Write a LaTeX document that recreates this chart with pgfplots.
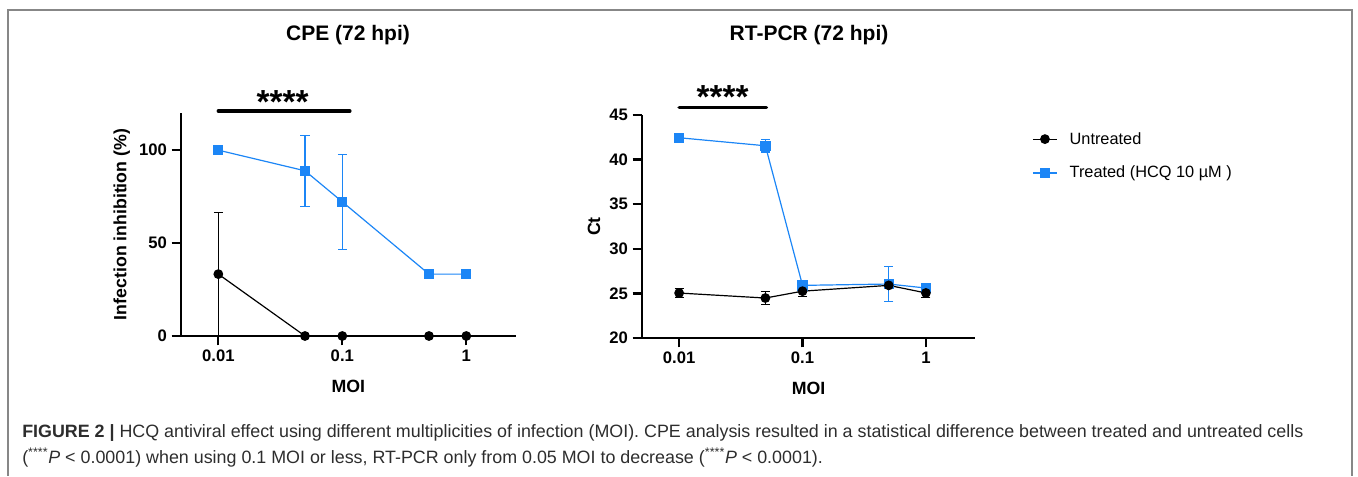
\documentclass[border=0pt]{standalone}
\usepackage{fontspec}
\setmainfont{Liberation Sans}
\usepackage{pgfplots}
\usepackage{pgfplotstable}
\pgfplotsset{compat=1.18}

\definecolor{hcqblue}{RGB}{28,134,246}
\definecolor{capgray}{RGB}{45,45,45}
\definecolor{framegray}{RGB}{135,135,135}

% CPE: infection inhibition (%), mean and error
\pgfplotstableread{
x    y     e
0.01 100   0
0.05 88.9  19.2
0.1  72.2  25.5
0.5  33.3  0
1    33.3  0
}\cpetreated
\pgfplotstableread{
x    y     e
0.01 33.3  33.4
0.05 0     0
0.1  0     0
0.5  0     0
1    0     0
}\cpeuntreated
% RT-PCR: Ct values
\pgfplotstableread{
x    y     e
0.01 42.45 0.3
0.05 41.55 0.7
0.1  25.9  0.3
0.5  26.05 1.95
1    25.6  0.25
}\pcrtreated
\pgfplotstableread{
x    y     e
0.01 25.04 0.55
0.05 24.48 0.72
0.1  25.25 0.65
0.5  25.9  0.25
1    25.05 0.55
}\pcruntreated

\begin{document}
\begin{tikzpicture}
\path (0,0) rectangle (1018.5pt,357pt);
\draw[framegray, line width=1.5pt] (6pt,0) -- (6pt,349.5pt) -- (1014pt,349.5pt) -- (1014pt,0);

% CPE
\begin{axis}[scale only axis, anchor=south west, clip=false,
  at={(135.75pt,105pt)}, width=251pt, height=167.25pt,
  xmode=log, xmin=0.005, xmax=2.5,
  xtick={0.01,0.1,1}, xticklabels={0.01,0.1,1}, minor tick length=0pt,
  axis lines=left, axis line style={-, line width=1.9pt},
  tick align=outside, major tick length=7pt,
  tick style={line width=1.7pt, black},
  ticklabel style={font=\fontsize{12.5}{14}\selectfont\bfseries},
  label style={font=\fontsize{13.3}{15}\selectfont\bfseries},
  xlabel={MOI}, xlabel style={yshift=-7pt},
  ymin=0, ymax=120, ytick={0,50,100}, yticklabels={0,50,100},
  ylabel={Infection inhibition (\%)}]
\addplot[hcqblue, line width=0.9pt, mark=square*, mark size=3.4pt,
  error bars/.cd, y dir=both, y explicit,
  error bar style={line width=0.8pt},
  error mark options={rotate=90, mark size=3.4pt, line width=0.8pt}]
  table[x=x, y=y, y error=e] {\cpetreated};
\addplot[black, line width=0.9pt, mark=*, mark size=3.2pt,
  error bars/.cd, y dir=both, y explicit,
  error bar style={line width=0.8pt},
  error mark options={rotate=90, mark size=3.4pt, line width=0.8pt}]
  table[x=x, y=y, y error=e] {\cpeuntreated};
\addplot[black, line width=2.6pt, line cap=round, no markers] coordinates {(0.01,121) (0.115,121)};
\end{axis}

% RT-PCR
\begin{axis}[scale only axis, anchor=south west, clip=false,
  at={(481.5pt,103.5pt)}, width=249.75pt, height=167.25pt,
  xmode=log, xmin=0.005, xmax=2.5,
  xtick={0.01,0.1,1}, xticklabels={0.01,0.1,1}, minor tick length=0pt,
  axis lines=left, axis line style={-, line width=1.9pt},
  tick align=outside, major tick length=7pt,
  tick style={line width=1.7pt, black},
  ticklabel style={font=\fontsize{12.5}{14}\selectfont\bfseries},
  label style={font=\fontsize{13.3}{15}\selectfont\bfseries},
  xlabel={MOI}, xlabel style={yshift=-7pt},
  ymin=20, ymax=45, ytick={20,25,30,35,40,45}, yticklabels={20,25,30,35,40,45},
  ylabel={Ct},
  reverse legend, legend cell align=left,
  legend image code/.code={
    \draw[#1, mark repeat=2, mark phase=2] plot coordinates {(0cm,0cm) (0.32cm,0cm) (0.64cm,0cm)};
    \path[draw=none] (0cm,0cm) -- (0.9cm,0cm);},
  legend style={at={(1.159,0.948)}, anchor=north west, draw=none, fill=none,
    font=\fontsize{12.25}{14}\selectfont, row sep=11pt}]
\addplot[hcqblue, line width=0.9pt, mark=square*, mark size=3.4pt,
  error bars/.cd, y dir=both, y explicit,
  error bar style={line width=0.8pt},
  error mark options={rotate=90, mark size=3.4pt, line width=0.8pt}]
  table[x=x, y=y, y error=e] {\pcrtreated};
\addlegendentry{Treated (HCQ 10 µM )}
\addplot[black, line width=0.9pt, mark=*, mark size=3.2pt,
  error bars/.cd, y dir=both, y explicit,
  error bar style={line width=0.8pt},
  error mark options={rotate=90, mark size=3.4pt, line width=0.8pt}]
  table[x=x, y=y, y error=e] {\pcruntreated};
\addlegendentry{Untreated}
\addplot[black, line width=2.6pt, line cap=round, no markers, forget plot] coordinates {(0.01,45.87) (0.051,45.87)};
\end{axis}

% titles and significance stars
\node[font=\fontsize{15.75}{18}\selectfont\bfseries] at (261pt,330.75pt) {CPE (72 hpi)};
\node[font=\fontsize{15.75}{18}\selectfont\bfseries] at (606.75pt,330.75pt) {RT-PCR (72 hpi)};
\node[font=\fontsize{25}{26}\selectfont\bfseries] at (212pt,280.5pt) {****};
\node[font=\fontsize{25}{26}\selectfont\bfseries] at (542pt,284pt) {****};

% caption
\node[anchor=north west, inner sep=0pt, align=left, text=capgray,
  font=\fontsize{13.4}{19}\selectfont] at (16.5pt,38.5pt)
  {\textbf{FIGURE 2 |} HCQ antiviral effect using different multiplicities of infection (MOI). CPE analysis resulted in a statistical difference between treated and untreated cells\\
  (\textsuperscript{****}\textit{P} < 0.0001) when using 0.1 MOI or less, RT-PCR only from 0.05 MOI to decrease (\textsuperscript{****}\textit{P} < 0.0001).};
\end{tikzpicture}
\end{document}
